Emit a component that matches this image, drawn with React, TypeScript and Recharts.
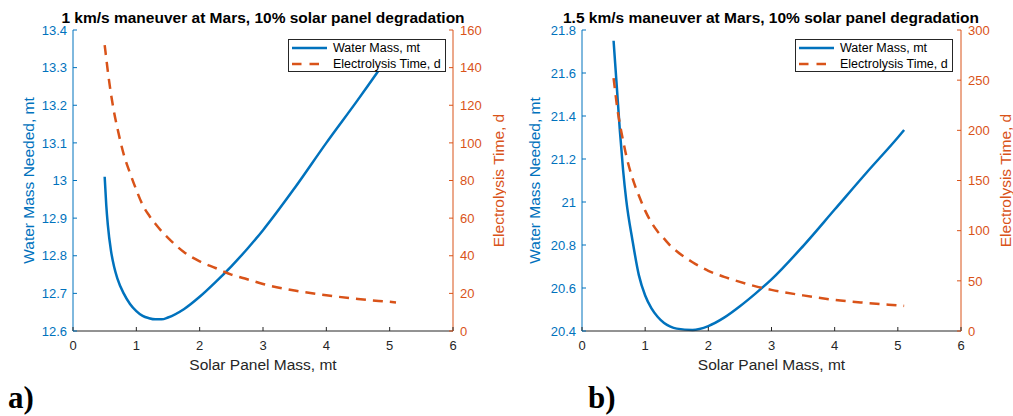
import React from "react";
import { LineChart, Line, XAxis, YAxis, Legend, Label } from "recharts";

// solar panel mass samples (mt), shared by both panels
const massX = [0.5, 0.525, 0.55, 0.6, 0.65, 0.7, 0.8, 0.9, 1.0, 1.1, 1.2, 1.3, 1.4, 1.5, 1.75, 2.0, 2.25, 2.5, 2.75, 3.0, 3.5, 4.0, 4.5, 5.0, 5.1];

// a) 1 km/s
const waterA = [13.01, 12.935, 12.882, 12.813, 12.77, 12.74, 12.7, 12.672, 12.653, 12.64, 12.634, 12.631, 12.631, 12.636, 12.658, 12.691, 12.73, 12.772, 12.818, 12.868, 12.98, 13.1, 13.215, 13.335, 13.36];
const timeA = [152, 145, 138, 126, 116, 108, 94, 84, 75, 67, 61.5, 57, 53, 49.5, 42, 37, 33.5, 30, 27.5, 25, 21.5, 19, 17, 15.5, 15.2];

// b) 1.5 km/s
const waterB = [21.75, 21.645, 21.54, 21.33, 21.15, 21.01, 20.82, 20.66, 20.565, 20.505, 20.465, 20.437, 20.42, 20.411, 20.405, 20.423, 20.462, 20.515, 20.575, 20.64, 20.795, 20.965, 21.135, 21.3, 21.335];
const timeB = [252, 239, 226, 206, 190, 175, 152, 135, 120, 108, 99, 92, 85, 79.5, 68.5, 60, 54, 49, 44.5, 41, 35.5, 31, 28, 25.5, 25];

const xTicks = [0, 1, 2, 3, 4, 5, 6];
const waterTicksA = [12.6, 12.7, 12.8, 12.9, 13, 13.1, 13.2, 13.3, 13.4];
const timeTicksA = [0, 20, 40, 60, 80, 100, 120, 140, 160];
const waterTicksB = [20.4, 20.6, 20.8, 21, 21.2, 21.4, 21.6, 21.8];
const timeTicksB = [0, 50, 100, 150, 200, 250, 300];

const BLUE = "#0072BD";
const ORANGE = "#D95319";
const GREY = "#262626";
const FONT = "'Liberation Sans', Arial, sans-serif";

const dataA = massX.map((x, i) => ({ x, w: waterA[i], t: timeA[i] }));
const dataB = massX.map((x, i) => ({ x, w: waterB[i], t: timeB[i] }));

const fmt = (v: number) => String(Number(Number(v).toFixed(1)));

function BottomTick(props: any) {
  const { x, y, payload } = props;
  return (
    <g>
      <line x1={x} y1={y} x2={x} y2={y - 4} stroke={GREY} />
      <text x={x} y={y + 10} dy="0.71em" textAnchor="middle" fill={GREY} fontSize={13} fontFamily={FONT}>
        {fmt(payload.value)}
      </text>
    </g>
  );
}

function TopTick(props: any) {
  const { x, y } = props;
  return <line x1={x} y1={y} x2={x} y2={y + 4} stroke={GREY} />;
}

function LeftTick(props: any) {
  const { x, y, payload } = props;
  return (
    <g>
      <line x1={x} y1={y} x2={x + 4} y2={y} stroke={BLUE} />
      <text x={x - 6} y={y} dy="0.36em" textAnchor="end" fill={BLUE} fontSize={13} fontFamily={FONT}>
        {fmt(payload.value)}
      </text>
    </g>
  );
}

function RightTick(props: any) {
  const { x, y, payload } = props;
  return (
    <g>
      <line x1={x} y1={y} x2={x - 4} y2={y} stroke={ORANGE} />
      <text x={x + 7} y={y} dy="0.36em" textAnchor="start" fill={ORANGE} fontSize={13} fontFamily={FONT}>
        {fmt(payload.value)}
      </text>
    </g>
  );
}

function Key({ payload }: any) {
  // water mass first, as in the plot legend
  const items = [...(payload || [])].sort((a: any, b: any) => (a.dataKey === "w" ? -1 : b.dataKey === "w" ? 1 : 0));
  return (
    <div
      style={{
        width: "100%",
        height: 33,
        boxSizing: "border-box",
        border: `1px solid ${GREY}`,
        background: "#fff",
        fontFamily: FONT,
        fontSize: 12.5,
        color: "#000",
        paddingTop: 0,
      }}
    >
      {items.map((e: any) => (
        <div key={e.value} style={{ display: "flex", alignItems: "center", height: 16, whiteSpace: "nowrap" }}>
          <svg width={41} height={6} style={{ marginLeft: 3, flex: "none" }}>
            <line
              x1={0}
              y1={3}
              x2={35}
              y2={3}
              stroke={e.color}
              strokeWidth={2.5}
              strokeDasharray={e.dataKey === "t" ? "9.5 8" : undefined}
            />
          </svg>
          <span>{e.value}</span>
        </div>
      ))}
    </div>
  );
}

type PanelProps = {
  data: { x: number; w: number; t: number }[];
  width: number;
  leftW: number;
  rightW: number;
  waterDomain: [number, number];
  waterTicks: number[];
  timeDomain: [number, number];
  timeTicks: number[];
  legendLeft: number;
  legendWidth: number;
};

function Panel(p: PanelProps) {
  return (
    <LineChart width={p.width} height={416} data={p.data} margin={{ top: 30, right: 0, bottom: 0, left: 0 }}>
      <XAxis
        xAxisId="b"
        dataKey="x"
        type="number"
        domain={[0, 6]}
        ticks={xTicks}
        interval={0}
        height={85}
        stroke={GREY}
        tickLine={false}
        tickSize={0}
        tickMargin={0}
        tick={BottomTick}
      >
        <Label value="Solar Panel Mass, mt" position="insideBottom" offset={46} fill={GREY} fontSize={15.5} fontFamily={FONT} />
      </XAxis>
      <XAxis
        xAxisId="top"
        orientation="top"
        dataKey="x"
        type="number"
        domain={[0, 6]}
        ticks={xTicks}
        interval={0}
        height={0}
        stroke={GREY}
        tickLine={false}
        tickSize={0}
        tickMargin={0}
        tick={TopTick}
      />
      <YAxis
        yAxisId="l"
        type="number"
        domain={p.waterDomain}
        ticks={p.waterTicks}
        interval={0}
        width={p.leftW}
        stroke={BLUE}
        tickLine={false}
        tickSize={0}
        tickMargin={0}
        tick={LeftTick}
      >
        <Label
          value="Water Mass Needed, mt"
          angle={-90}
          position="insideLeft"
          offset={28}
          style={{ textAnchor: "middle" }}
          fill={BLUE}
          fontSize={15.5}
          fontFamily={FONT}
        />
      </YAxis>
      <YAxis
        yAxisId="r"
        orientation="right"
        type="number"
        domain={p.timeDomain}
        ticks={p.timeTicks}
        interval={0}
        width={p.rightW}
        stroke={ORANGE}
        tickLine={false}
        tickSize={0}
        tickMargin={0}
        tick={RightTick}
      >
        <Label
          value="Electrolysis Time, d"
          angle={-90}
          position="insideRight"
          offset={8}
          style={{ textAnchor: "middle" }}
          fill={ORANGE}
          fontSize={15.5}
          fontFamily={FONT}
        />
      </YAxis>
      <Legend
        layout="vertical"
        align="center"
        verticalAlign="middle"
        itemSorter={null}
        content={Key}
        wrapperStyle={{ left: p.legendLeft, top: 39, width: p.legendWidth, height: 33 }}
      />
      <Line
        xAxisId="b"
        yAxisId="l"
        type="monotone"
        dataKey="w"
        name="Water Mass, mt"
        stroke={BLUE}
        strokeWidth={2.5}
        dot={false}
        isAnimationActive={false}
      />
      <Line
        xAxisId="b"
        yAxisId="r"
        type="monotone"
        dataKey="t"
        name="Electrolysis Time, d"
        stroke={ORANGE}
        strokeWidth={2.5}
        strokeDasharray="10 7"
        dot={false}
        isAnimationActive={false}
      />
    </LineChart>
  );
}

export default function App() {
  return (
    <div style={{ position: "absolute", left: 0, top: 0, width: 1013, height: 416, background: "#fff", overflow: "hidden" }}>
      <div style={{ position: "absolute", left: 0, top: 0 }}>
        <Panel
          data={dataA}
          width={506}
          leftW={73}
          rightW={53}
          waterDomain={[12.6, 13.4]}
          waterTicks={waterTicksA}
          timeDomain={[0, 160]}
          timeTicks={timeTicksA}
          legendLeft={288}
          legendWidth={158}
        />
      </div>
      <div style={{ position: "absolute", left: 506, top: 0 }}>
        <Panel
          data={dataB}
          width={507}
          leftW={76}
          rightW={52}
          waterDomain={[20.4, 21.8]}
          waterTicks={waterTicksB}
          timeDomain={[0, 300]}
          timeTicks={timeTicksB}
          legendLeft={289}
          legendWidth={158}
        />
      </div>
      <svg width={1013} height={416} style={{ position: "absolute", left: 0, top: 0, pointerEvents: "none" }}>
        <text x={263} y={23} textAnchor="middle" fontFamily={FONT} fontWeight="bold" fontSize={15.5} fill="#000">
          1 km/s maneuver at Mars, 10% solar panel degradation
        </text>
        <text x={771} y={23} textAnchor="middle" fontFamily={FONT} fontWeight="bold" fontSize={15.5} fill="#000">
          1.5 km/s maneuver at Mars, 10% solar panel degradation
        </text>
        <text x={8} y={408} fontFamily="'Liberation Serif', 'Times New Roman', serif" fontWeight="bold" fontSize={31} fill="#000">
          a)
        </text>
        <text x={588} y={408} fontFamily="'Liberation Serif', 'Times New Roman', serif" fontWeight="bold" fontSize={31} fill="#000">
          b)
        </text>
      </svg>
    </div>
  );
}
